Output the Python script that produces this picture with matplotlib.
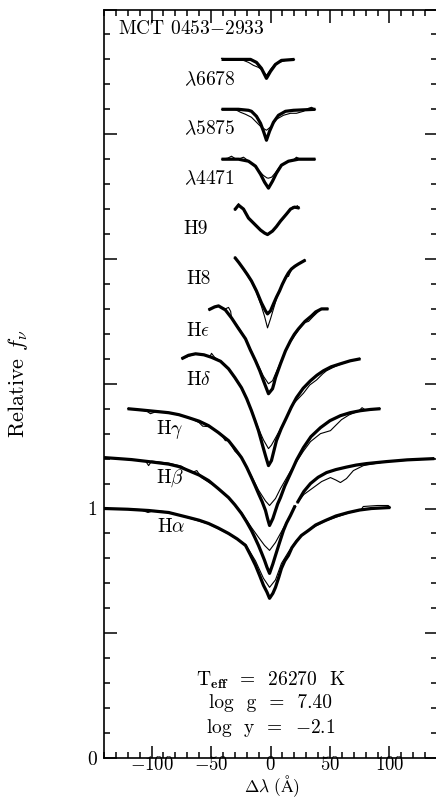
import numpy as np
import matplotlib
matplotlib.use("Agg")
import matplotlib.pyplot as plt
from matplotlib.ticker import MultipleLocator, FixedLocator, FixedFormatter

plt.rcParams['font.family'] = ['cmr10', 'DejaVu Serif']
plt.rcParams['mathtext.fontset'] = 'cm'
plt.rcParams['axes.formatter.use_mathtext'] = True

nan = np.nan

# vertical offset of each profile (relative flux units)
offsets = [0.0, 0.2, 0.4, 0.6, 0.8, 1.0, 1.2, 1.4, 1.6, 1.8]
labels = [r"H$\alpha$", r"H$\beta$", r"H$\gamma$", r"H$\delta$", r"H$\epsilon$",
          "H8", "H9", r"$\lambda$4471", r"$\lambda$5875", r"$\lambda$6678"]

# --- model (thick) and observed (thin) profiles, normalised flux vs delta lambda ---
ha_mod_x = [-140, -120, -102.5, -85.7, -68.9, -60, -52.1, -44, -35.3, -28, -21.0, -17, -12.6, -9, -5.9, -3, -0.8,
            2, 4.2, 7, 9.2, 12, 15.1, 18, 21.8, 26, 31.9, 38, 46.2, 55, 65.5, 75, 84.9, 100.8]
ha_mod_y = [1.0, 0.997, 0.992, 0.984, 0.964, 0.953, 0.94, 0.922, 0.90, 0.878, 0.852, 0.815, 0.772, 0.73, 0.692, 0.665, 0.64,
            0.66, 0.684, 0.725, 0.76, 0.79, 0.812, 0.843, 0.868, 0.892, 0.912, 0.934, 0.952, 0.97, 0.984, 0.994, 1.0, 1.004]
ha_obs_x = [-140, -110, -103, -98, -85.7, -68.9, -52.1, -35.3, -21.0, -12.6, -5.9, -0.8, 4.2, 9.2, 15.1, 21.8, 31.9, 46.2, 65.5, 76, 78, 90, 99, 100.8]
ha_obs_y = [1.0, 0.996, 0.984, 0.992, 0.986, 0.962, 0.938, 0.898, 0.856, 0.79, 0.72, 0.684, 0.714, 0.78, 0.826, 0.872, 0.914, 0.95, 0.982, 0.994, 1.008, 1.012, 1.012, 1.004]

hb_mod_x = [-140, -128, -116.8, -102.5, -94, -85.7, -77, -68.9, -60, -52.1, -44, -35.3, -30, -24.4, -20, -16.0, -13, -10.1, -7.5, -5.0, -3, -0.8,
            2, 4.2, 7.5, 10.9, 13.5, 16.8, 20.8, nan, 22.4, 28, 33.6, 40, 47.1, 55, 63.9, 72, 80.7, 97.5, 115, 137.8]
hb_mod_y = [1.004, 1.0, 0.996, 0.988, 0.983, 0.978, 0.968, 0.952, 0.934, 0.912, 0.88, 0.844, 0.815, 0.78, 0.746, 0.712, 0.682, 0.652, 0.622, 0.592, 0.565, 0.54,
            0.578, 0.612, 0.662, 0.712, 0.742, 0.772, 0.812, nan, 0.822, 0.868, 0.90, 0.925, 0.944, 0.956, 0.966, 0.974, 0.98, 0.988, 0.995, 1.0]
hb_obs_x = [-140, -120, -105, -102.5, -100, -86, -75, -66, -62, -58, -52, -46, -40, -35, -24.4, -16, -10, -5, -0.8, 4.2, 10.9, 16.8, 20.8, nan, 22.4, 28, 36.1, 43, 50.4, 55, 58.8, 63.9, 69.7, 78.2, 97.5, 137.8]
hb_obs_y = [1.004, 0.996, 0.99, 0.972, 0.99, 0.982, 0.97, 0.944, 0.952, 0.924, 0.905, 0.888, 0.862, 0.842, 0.784, 0.724, 0.684, 0.652, 0.632, 0.664, 0.722, 0.772, 0.812, nan, 0.822, 0.856, 0.884, 0.908, 0.924, 0.914, 0.904, 0.92, 0.952, 0.972, 0.988, 1.0]

hg_mod_x = [-120.2, -111, -102.5, -94, -85.7, -77, -68.9, -60, -52.1, -44, -35.3, -30, -24.4, -20, -16.0, -13, -10.1, -7, -4.2, -2.5, -0.8,
            2, 4.2, 6, 8.4, 12, 16.8, 22, 27.7, 34, 42.0, 50, 58.8, 67, 75.6, 84, 92.4]
hg_mod_y = [1.0, 0.996, 0.992, 0.988, 0.984, 0.976, 0.964, 0.95, 0.932, 0.905, 0.872, 0.84, 0.804, 0.765, 0.724, 0.692, 0.66, 0.627, 0.592, 0.56, 0.532,
            0.56, 0.592, 0.618, 0.644, 0.69, 0.74, 0.795, 0.844, 0.888, 0.924, 0.952, 0.972, 0.984, 0.992, 0.997, 1.0]
hg_obs_x = [-120.2, -110, -104, -101, -95, -86, -75, -66, -60, -57, -52, -42, -38, -35.3, -30, -24.4, -16, -10.1, -4.2, -0.8, 4.2, 8.4, 16.8, 27.7, 33.6, 42.0, 50.4, 54.6, 59.7, 66, 73.9, 77, 80, 92.4]
hg_obs_y = [1.0, 0.996, 0.99, 0.98, 0.99, 0.984, 0.972, 0.958, 0.944, 0.93, 0.928, 0.9, 0.872, 0.872, 0.83, 0.804, 0.73, 0.674, 0.63, 0.612, 0.64, 0.68, 0.75, 0.83, 0.868, 0.9, 0.912, 0.932, 0.956, 0.975, 0.99, 1.004, 0.994, 1.0]

hd_mod_x = [-74.8, -69, -63.0, -56, -49.6, -42, -35.3, -30, -24.4, -20, -16.0, -13, -10.1, -8, -5.9, -3.8, -1.7,
            0.8, 2.9, 5.0, 9, 13.4, 17.5, 21.8, 27.5, 33.6, 39, 44.5, 51, 58.8, 67, 75.6]
hd_mod_y = [1.0, 1.014, 1.02, 1.016, 1.006, 0.99, 0.96, 0.925, 0.884, 0.84, 0.792, 0.752, 0.712, 0.676, 0.64, 0.605, 0.572,
            0.592, 0.632, 0.672, 0.72, 0.764, 0.806, 0.844, 0.882, 0.912, 0.934, 0.952, 0.968, 0.98, 0.992, 1.0]
hd_obs_x = [-74.8, -63, -56, -51, -49.6, -47, -42, -35.3, -24.4, -16, -10.1, -5.9, -1.7, 0.8, 5, 13.4, 19.3, 27.7, 33, 38.7, 44, 47.1, 54.6, 60, 66, 75.6]
hd_obs_y = [1.0, 1.02, 1.016, 1.008, 1.022, 1.006, 0.99, 0.96, 0.884, 0.796, 0.72, 0.675, 0.64, 0.654, 0.69, 0.764, 0.82, 0.862, 0.895, 0.915, 0.94, 0.952, 0.97, 0.98, 0.99, 1.0]

he_mod_x = [-52.1, -47, -43.7, -38, -32.8, -27, -21.0, -17, -12.6, -9, -5.9, -3.8, -1.7,
            1.7, 2.9, 4.2, 8.4, 12.6, 16.8, 20, 23.5, 29, 34.5, 38, 42.9, 48.7]
he_mod_y = [0.996, 1.008, 1.012, 0.996, 0.964, 0.922, 0.88, 0.836, 0.792, 0.752, 0.712, 0.686, 0.66,
            0.68, 0.70, 0.724, 0.78, 0.832, 0.872, 0.898, 0.92, 0.95, 0.972, 0.988, 1.0, 1.0]
he_obs_x = [-52.1, -47, -43.7, -38, -35.3, -33.5, -32.8, -26, -21, -12.6, -5.9, -1.7, 1.7, 4.2, 12.6, 16.8, 23.5, 28, 32, 36, 40, 42.9, 48.7]
he_obs_y = [0.996, 1.008, 1.012, 1.0, 1.006, 0.99, 0.964, 0.92, 0.88, 0.796, 0.73, 0.70, 0.712, 0.74, 0.832, 0.868, 0.915, 0.944, 0.95, 0.97, 0.988, 1.0, 1.0]

h8_mod_x = [-30.3, -26.5, -22.7, -19.5, -16.0, -11.8, -7.6, -4.2, -2.5, 0.0, 2.5, 5, 7.6, 10, 12.6, 15, 17.6, 20.5, 23.5, 29.4]
h8_mod_y = [1.008, 0.985, 0.96, 0.938, 0.912, 0.872, 0.824, 0.792, 0.78, 0.792, 0.82, 0.847, 0.872, 0.899, 0.924, 0.944, 0.96, 0.971, 0.98, 0.996]
h8_obs_x = [-30.3, -22.7, -16.0, -11.8, -7.6, -5.0, -2.5, 0.0, 2.5, 5.0, 8.4, 11, 13.4, 15.1, 17.6, 23.5, 29.4]
h8_obs_y = [1.008, 0.958, 0.908, 0.866, 0.81, 0.77, 0.724, 0.76, 0.80, 0.84, 0.88, 0.905, 0.935, 0.93, 0.958, 0.98, 0.996]

h9_mod_x = [-30.3, -26.9, -22.7, -18.5, -12.6, -8.4, -5.0, -2.5, 1.7, 5, 8.4, 13.4, 16.8, 20.2, 24.4]
h9_mod_y = [0.996, 1.016, 1.0, 0.964, 0.936, 0.916, 0.904, 0.898, 0.912, 0.93, 0.952, 0.98, 1.0, 1.008, 1.004]
h9_obs_x = [-30.3, -28, -26.9, -25, -22.7, -18.5, -12.6, -8.4, -5.0, -2.5, 1.7, 8.4, 13.4, 16.8, 19, 21, 22.5, 24.4]
h9_obs_y = [0.996, 1.01, 1.022, 1.008, 0.998, 0.962, 0.932, 0.914, 0.904, 0.9, 0.914, 0.95, 0.978, 0.996, 1.01, 1.004, 1.014, 1.004]

he4471_mod_x = [-41.2, -26.9, -18.5, -12.6, -8.4, -5.0, -1.7, 1.7, 5.0, 9.2, 15.1, 23.5, 37.8]
he4471_mod_y = [1.0, 1.0, 0.992, 0.972, 0.94, 0.908, 0.884, 0.912, 0.944, 0.976, 0.992, 1.0, 1.0]
he4471_obs_x = [-41.2, -36, -32.8, -29, -25, -22.7, -19, -14, -10, -6, -3, -1.7, 1, 4, 7, 11, 15, 19, 21.8, 25, 30, 37.8]
he4471_obs_y = [1.0, 1.004, 1.012, 1.0, 1.004, 1.008, 0.995, 0.975, 0.955, 0.935, 0.925, 0.924, 0.928, 0.945, 0.965, 0.98, 0.99, 0.996, 1.008, 1.0, 1.0, 1.0]

he5875_mod_x = [-41.2, -27.0, -18.5, -16.0, -11.8, -8.4, -5.9, -3.4, -0.8, 2.5, 6.7, 12.6, 19.3, 37.8]
he5875_mod_y = [1.0, 1.0, 0.996, 0.992, 0.972, 0.944, 0.912, 0.876, 0.912, 0.948, 0.976, 0.992, 0.996, 1.0]
he5875_obs_x = [-41.2, -30, -25.2, -21.0, -16.0, -11.8, -7.6, -3.4, 0.8, 5.0, 10.9, 16.8, 21.8, 27.7, 31.9, 34.5, 37.8]
he5875_obs_y = [1.0, 1.0, 0.988, 0.98, 0.968, 0.948, 0.928, 0.916, 0.932, 0.96, 0.976, 0.984, 0.984, 0.992, 1.004, 1.008, 1.0]

he6678_mod_x = [-41.2, -26.9, -16.8, -11.8, -7.6, -3.4, 0.0, 4.2, 9.2, 20.2]
he6678_mod_y = [1.0, 1.0, 1.0, 0.988, 0.964, 0.924, 0.952, 0.98, 0.996, 1.0]
he6678_obs_x = [-41.2, -26.9, -22.7, -18.5, -14.3, -10.1, -6.7, -3.4, 0.0, 3.4, 7.6, 12.6, 20.2]
he6678_obs_y = [1.004, 1.0, 0.996, 0.988, 0.976, 0.968, 0.956, 0.936, 0.96, 0.98, 0.988, 0.996, 1.0]

profiles = [
    (ha_mod_x, ha_mod_y, ha_obs_x, ha_obs_y),
    (hb_mod_x, hb_mod_y, hb_obs_x, hb_obs_y),
    (hg_mod_x, hg_mod_y, hg_obs_x, hg_obs_y),
    (hd_mod_x, hd_mod_y, hd_obs_x, hd_obs_y),
    (he_mod_x, he_mod_y, he_obs_x, he_obs_y),
    (h8_mod_x, h8_mod_y, h8_obs_x, h8_obs_y),
    (h9_mod_x, h9_mod_y, h9_obs_x, h9_obs_y),
    (he4471_mod_x, he4471_mod_y, he4471_obs_x, he4471_obs_y),
    (he5875_mod_x, he5875_mod_y, he5875_obs_x, he5875_obs_y),
    (he6678_mod_x, he6678_mod_y, he6678_obs_x, he6678_obs_y),
]

# label anchors (left edge, vertical centre)
label_pos = [(-95.5, 0.925), (-96, 1.12), (-96, 1.315), (-71, 1.515), (-71, 1.71),
             (-71, 1.92), (-73, 2.12), (-73, 2.32), (-73, 2.52), (-73, 2.716)]

fig = plt.figure(figsize=(4.36, 7.99), dpi=100)
ax = fig.add_axes([104 / 436, 41 / 799, 333 / 436, 748.5 / 799])

for (mx, my, ox, oy), off in zip(profiles, offsets):
    ax.plot(mx, np.array(my) + off, color='black', lw=2.3, solid_capstyle='butt', solid_joinstyle='round')
    ax.plot(ox, np.array(oy) + off, color='black', lw=0.8)

for lab, (lx, ly) in zip(labels, label_pos):
    ax.text(lx, ly, lab, fontsize=14, ha='left', va='center')

ax.text(-128, 2.92, r"MCT 0453$-$2933", fontsize=14, ha='left', va='center')
ax.text(0, 0.31, r"T$_{\mathbf{eff}}$  =  26270  K", fontsize=14, ha='center', va='center')
ax.text(0, 0.22, r"log  g  =  7.40", fontsize=14, ha='center', va='center')
ax.text(0, 0.12, r"log  y  =  $-$2.1", fontsize=14, ha='center', va='center')

ax.set_xlim(-140, 140)
ax.set_ylim(0, 3)
ax.xaxis.set_major_locator(MultipleLocator(50))
ax.xaxis.set_minor_locator(MultipleLocator(10))
ax.yaxis.set_major_locator(FixedLocator([0, 0.5, 1, 1.5, 2, 2.5, 3]))
ax.yaxis.set_major_formatter(FixedFormatter(['0', '', '1', '', '', '', '']))
ax.yaxis.set_minor_locator(MultipleLocator(0.1))
ax.tick_params(which='both', direction='in', top=True, right=True, width=1.1, labelsize=14)
ax.tick_params(which='major', length=9)
ax.tick_params(axis='x', which='major', pad=-1.5, labelsize=13.5)
ax.tick_params(axis='y', which='major', pad=5)
ax.tick_params(which='minor', length=4.5)
for s in ax.spines.values():
    s.set_linewidth(1.2)

fig.text(18 / 436, 1 - 384 / 799, r"Relative $f_\nu$", rotation=90, fontsize=16, ha='center', va='center')
fig.text(272 / 436, 0, r"$\Delta\lambda\ (\mathrm{\AA})$", fontsize=12.5, ha='center', va='bottom')

fig.savefig("out.png", dpi=100)
